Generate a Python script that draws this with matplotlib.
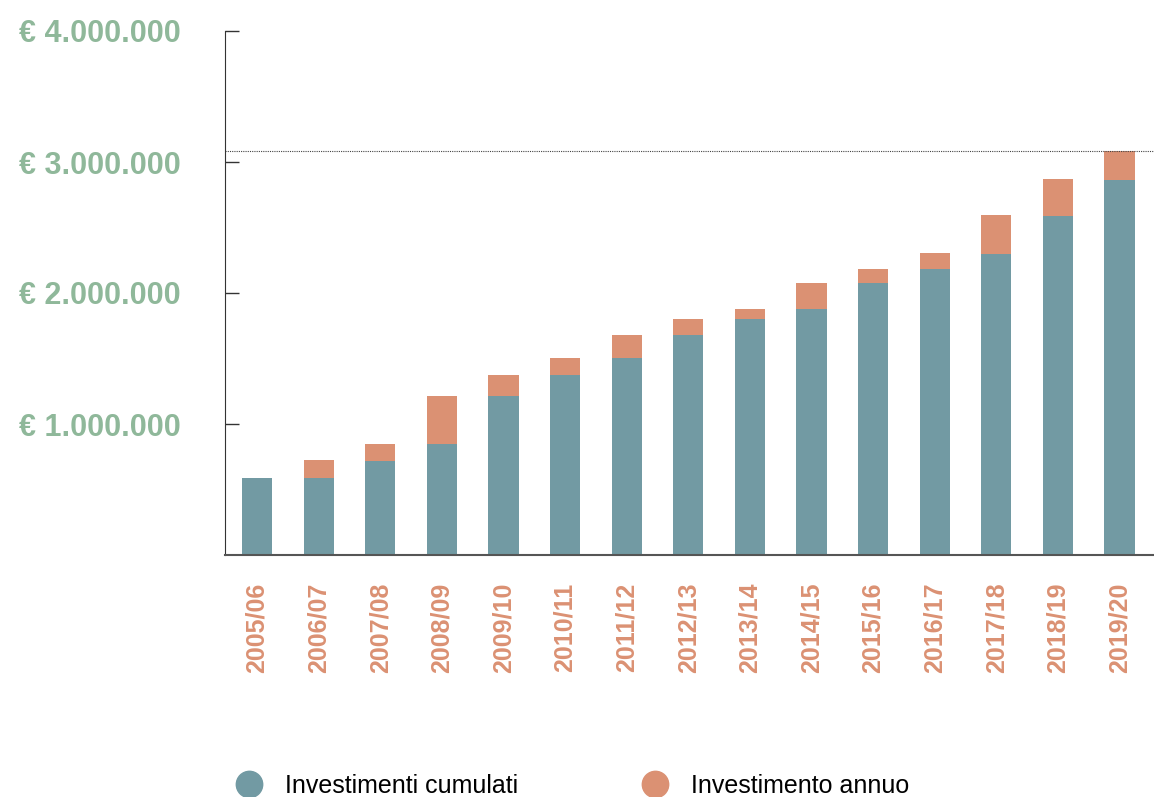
import matplotlib
matplotlib.use("Agg")
import matplotlib.pyplot as plt
from matplotlib.lines import Line2D

plt.rcParams['font.family'] = ['Liberation Sans', 'DejaVu Sans']

# anni accademici
years = ["2005/06", "2006/07", "2007/08", "2008/09", "2009/10", "2010/11",
         "2011/12", "2012/13", "2013/14", "2014/15", "2015/16", "2016/17",
         "2017/18", "2018/19", "2019/20"]

# investimenti cumulati (base della barra)
cumulati = [590000, 590000, 718000, 847000, 1214000, 1374000, 1504000,
            1679000, 1802000, 1878000, 2076000, 2183000, 2298000, 2588000,
            2863000]

# investimento annuo (parte superiore)
annuo = [0, 135000, 129000, 367000, 160000, 130000, 175000, 123000,
         76000, 198000, 107000, 122000, 297000, 282000, 221000]

yticks = [1000000, 2000000, 3000000, 4000000]
ytick_labels = ["€ 1.000.000", "€ 2.000.000", "€ 3.000.000", "€ 4.000.000"]

teal = "#729aa3"
orange = "#db9173"
green = "#8fb89a"

fig = plt.figure(figsize=(11.54, 7.97), dpi=100)
ax = fig.add_axes([225 / 1154, 1 - 555 / 797, 1 - 225 / 1154, (555 - 31) / 797])

x = range(len(years))
ax.bar(x, cumulati, width=0.49, color=teal)
ax.bar(x, annuo, width=0.49, bottom=cumulati, color=orange)

totale = cumulati[-1] + annuo[-1]
ax.axhline(totale, color="#444444", linestyle=(0, (1, 1)), linewidth=0.8)

ax.set_xlim(-0.52, 14.56)
ax.set_ylim(0, 4000000)

ax.set_yticks(yticks)
ax.set_yticklabels(ytick_labels, color=green, fontsize=22, fontweight="bold")
ax.tick_params(axis="y", direction="in", length=10, width=1, color="#333333", pad=32)

ax.set_xticks(list(x))
ax.set_xticklabels(years, rotation=90, color=orange, fontsize=18, fontweight="bold")
ax.tick_params(axis="x", length=0, pad=20)

for s in ["top", "right"]:
    ax.spines[s].set_visible(False)
ax.spines["left"].set_color("#333333")
ax.spines["bottom"].set_color("#555555")
ax.spines["bottom"].set_linewidth(1.5)

handles = [
    Line2D([], [], marker="o", linestyle="none", markersize=19,
           markerfacecolor=teal, markeredgecolor=teal, label="Investimenti cumulati"),
    Line2D([], [], marker="o", linestyle="none", markersize=19,
           markerfacecolor=orange, markeredgecolor=orange, label="Investimento annuo"),
]
fig.legend(handles=handles, loc="center left", bbox_to_anchor=(224 / 1154, 1 - 786 / 797),
           ncol=2, frameon=False, fontsize=18, handletextpad=0.45,
           columnspacing=4.45, borderaxespad=0, borderpad=0)

fig.savefig("out.png", dpi=100)
